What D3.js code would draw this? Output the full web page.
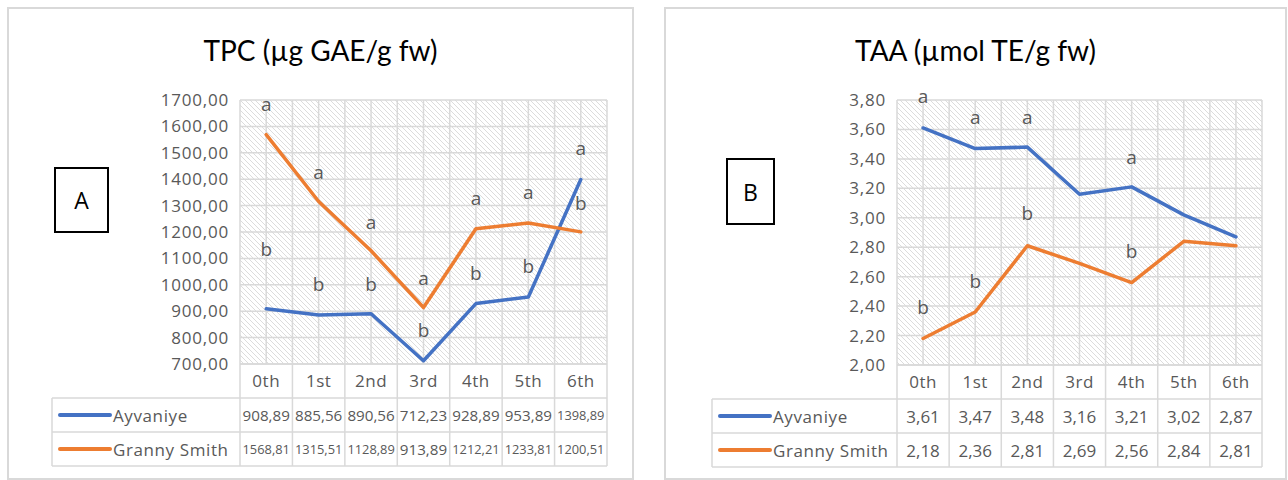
<!DOCTYPE html>
<html>
<head>
<meta charset="utf-8">
<script src="https://cdn.jsdelivr.net/npm/d3@7"></script>
<style>
  html, body { margin: 0; padding: 0; background: #fff; }
  svg { display: block; }
  text { font-family: "Open Sans", "Noto Sans", sans-serif; fill: #595959; }
  .title { font-family: Lato, "Open Sans", sans-serif; fill: #000; }
</style>
</head>
<body>
<svg id="chart" width="1288" height="480"></svg>
<script>
// Sampling days
const stages = ["0th", "1st", "2nd", "3rd", "4th", "5th", "6th"];
const seriesNames = ["Ayvaniye", "Granny Smith"];

// Total phenolic content (µg GAE/g fw)
const tpcAyvaniye = [908.89, 885.56, 890.56, 712.23, 928.89, 953.89, 1398.89];
const tpcGranny = [1568.81, 1315.51, 1128.89, 913.89, 1212.21, 1233.81, 1200.51];
const tpcTicks = [700, 800, 900, 1000, 1100, 1200, 1300, 1400, 1500, 1600, 1700];
const tpcLettersAyvaniye = ["b", "b", "b", "b", "b", "b", "a"];
const tpcLettersGranny = ["a", "a", "a", "a", "a", "a", "b"];

// Total antioxidant activity (µmol TE/g fw)
const taaAyvaniye = [3.61, 3.47, 3.48, 3.16, 3.21, 3.02, 2.87];
const taaGranny = [2.18, 2.36, 2.81, 2.69, 2.56, 2.84, 2.81];
const taaTicks = [2.0, 2.2, 2.4, 2.6, 2.8, 3.0, 3.2, 3.4, 3.6, 3.8];
const taaLettersAyvaniye = ["a", "a", "a", "", "a", "", ""];
const taaLettersGranny = ["b", "b", "b", "", "b", "", ""];

const colors = ["#4472C4", "#ED7D31"];
const gridColor = "#d9d9d9";
const commaNum = v => d3.format(".2f")(v).replace(".", ",");

const svg = d3.select("#chart");

// diagonal hatch fill for the plot areas
const defs = svg.append("defs");
const pat = defs.append("pattern")
  .attr("id", "hatch").attr("patternUnits", "userSpaceOnUse")
  .attr("width", 5).attr("height", 5);
pat.append("path")
  .attr("d", "M-1,-1L6,6M4,-1L6,1M-1,4L1,6")
  .attr("stroke", "#dcdcdc").attr("stroke-width", 1);

function drawPanel(cfg) {
  const g = svg.append("g");

  // outer frame
  g.append("rect")
    .attr("x", cfg.frame[0]).attr("y", cfg.frame[1])
    .attr("width", cfg.frame[2] - cfg.frame[0]).attr("height", cfg.frame[3] - cfg.frame[1])
    .attr("fill", "#fff").attr("stroke", gridColor).attr("stroke-width", 2);

  g.append("text").attr("class", "title")
    .attr("x", (cfg.frame[0] + cfg.frame[2]) / 2).attr("y", 50)
    .attr("text-anchor", "middle").attr("dominant-baseline", "central")
    .attr("font-size", 28).text(cfg.title);

  // panel tag box
  g.append("rect")
    .attr("x", cfg.tag.x).attr("y", cfg.tag.y)
    .attr("width", cfg.tag.w).attr("height", cfg.tag.h)
    .attr("fill", "#fff").attr("stroke", "#000").attr("stroke-width", 2);
  g.append("text")
    .attr("x", cfg.tag.x + cfg.tag.w / 2).attr("y", cfg.tag.y + cfg.tag.h / 2)
    .attr("text-anchor", "middle").attr("dominant-baseline", "central")
    .attr("font-size", 23).style("fill", "#000").text(cfg.tag.label);

  const x = d3.scaleBand().domain(stages).range([cfg.left, cfg.right]);
  const y = d3.scaleLinear().domain(cfg.domain).range([cfg.bottom, cfg.top]);
  const xc = d => x(d) + x.bandwidth() / 2;

  // plot background
  g.append("rect")
    .attr("x", cfg.left).attr("y", cfg.top)
    .attr("width", cfg.right - cfg.left).attr("height", cfg.bottom - cfg.top)
    .attr("fill", "url(#hatch)");

  // horizontal gridlines
  g.append("g").selectAll("line").data(cfg.ticks).join("line")
    .attr("x1", cfg.left).attr("x2", cfg.right)
    .attr("y1", d => y(d)).attr("y2", d => y(d))
    .attr("stroke", gridColor).attr("stroke-width", 1.5);

  // vertical gridlines at band edges and centres
  const vx = [];
  stages.forEach(s => { vx.push(x(s)); vx.push(xc(s)); });
  vx.push(cfg.right);
  g.append("g").selectAll("line").data(vx).join("line")
    .attr("x1", d => d).attr("x2", d => d)
    .attr("y1", cfg.top).attr("y2", cfg.bottom)
    .attr("stroke", gridColor).attr("stroke-width", 1.5);

  // y axis labels
  const yAxis = d3.axisLeft(y).tickValues(cfg.ticks).tickFormat(commaNum).tickSize(0).tickPadding(0);
  const ya = g.append("g").attr("transform", `translate(${cfg.labelRight},0)`).call(yAxis);
  ya.select(".domain").remove();
  ya.selectAll("text").attr("font-size", 17).attr("font-family", null)
    .attr("letter-spacing", 0.8).style("fill", "#595959");

  // data table under the plot
  const rowH = 34;
  const rows = [cfg.bottom, cfg.bottom + rowH, cfg.bottom + 2 * rowH, cfg.bottom + 3 * rowH];
  const tbl = g.append("g").attr("fill", "none").attr("stroke", gridColor).attr("stroke-width", 1.5);
  tbl.append("line").attr("x1", cfg.left).attr("x2", cfg.right).attr("y1", rows[0]).attr("y2", rows[0]);
  [rows[1], rows[2], rows[3]].forEach(r => {
    tbl.append("line").attr("x1", cfg.keyLeft).attr("x2", cfg.right).attr("y1", r).attr("y2", r);
  });
  tbl.append("line").attr("x1", cfg.keyLeft).attr("x2", cfg.keyLeft).attr("y1", rows[1]).attr("y2", rows[3]);
  stages.forEach(s => {
    tbl.append("line").attr("x1", x(s)).attr("x2", x(s)).attr("y1", rows[0]).attr("y2", rows[3]);
  });
  tbl.append("line").attr("x1", cfg.right).attr("x2", cfg.right).attr("y1", rows[0]).attr("y2", rows[3]);

  const xAxis = d3.axisBottom(x).tickSize(0).tickPadding(0);
  const xa = g.append("g").attr("transform", `translate(0,${cfg.bottom + rowH / 2})`).call(xAxis);
  xa.select(".domain").remove();
  xa.selectAll("text").attr("font-size", 17).attr("font-family", null)
    .attr("letter-spacing", 0.5).attr("dy", "0.35em").style("fill", "#595959");

  cfg.series.forEach((vals, i) => {
    const cy = rows[1 + i] + rowH / 2;
    g.append("line")
      .attr("x1", cfg.keyLeft + 8).attr("x2", cfg.keyLeft + 58)
      .attr("y1", cy).attr("y2", cy)
      .attr("stroke", colors[i]).attr("stroke-width", 4).attr("stroke-linecap", "round");
    g.append("text")
      .attr("x", cfg.keyLeft + 61).attr("y", cy).attr("dominant-baseline", "central")
      .attr("font-size", 17).attr("letter-spacing", 0.6).text(seriesNames[i]);
    // value cells: shrink wide numbers so each stays inside its column
    const maxW = x.bandwidth() - 5;
    g.append("g").selectAll("text").data(vals).join("text")
      .attr("x", (d, j) => xc(stages[j])).attr("y", cy)
      .attr("text-anchor", "middle").attr("dominant-baseline", "central")
      .attr("font-size", 17).text(d => commaNum(d))
      .each(function () {
        const w = this.getComputedTextLength();
        if (w > maxW) d3.select(this).attr("font-size", 17 * maxW / w);
      });
  });

  // series lines
  const line = d3.line().x((d, j) => xc(stages[j])).y(d => y(d));
  cfg.series.forEach((vals, i) => {
    g.append("path").datum(vals)
      .attr("d", line).attr("fill", "none")
      .attr("stroke", colors[i]).attr("stroke-width", 3.5)
      .attr("stroke-linejoin", "round").attr("stroke-linecap", "round");
  });

  // significance letters
  cfg.letters.forEach((lets, i) => {
    g.append("g").selectAll("text").data(lets).join("text")
      .attr("x", (d, j) => xc(stages[j]))
      .attr("y", (d, j) => y(cfg.series[i][j]) - cfg.lift[i][j])
      .attr("text-anchor", "middle").attr("dominant-baseline", "central")
      .attr("font-size", 19).text(d => d);
  });
}

drawPanel({
  id: "tpc",
  title: "TPC (µg GAE/g fw)",
  frame: [8, 8, 633, 479],
  tag: { x: 55, y: 168, w: 53, h: 64, label: "A" },
  left: 240, right: 607, top: 100, bottom: 364,
  labelRight: 229, keyLeft: 52,
  domain: [700, 1700], ticks: tpcTicks,
  series: [tpcAyvaniye, tpcGranny],
  letters: [tpcLettersAyvaniye, tpcLettersGranny],
  lift: [[60, 31, 30, 31, 31, 31, 31], [31, 30, 29, 30, 31, 31, 29]]
});

drawPanel({
  id: "taa",
  title: "TAA (µmol TE/g fw)",
  frame: [665, 8, 1286, 479],
  tag: { x: 727, y: 159, w: 47, h: 65, label: "B" },
  left: 897, right: 1262, top: 100, bottom: 365,
  labelRight: 886, keyLeft: 712,
  domain: [2.0, 3.8], ticks: taaTicks,
  series: [taaAyvaniye, taaGranny],
  letters: [taaLettersAyvaniye, taaLettersGranny],
  lift: [[32, 32, 30, 31, 30, 31, 31], [32, 31, 33, 31, 32, 31, 31]]
});
</script>
</body>
</html>
